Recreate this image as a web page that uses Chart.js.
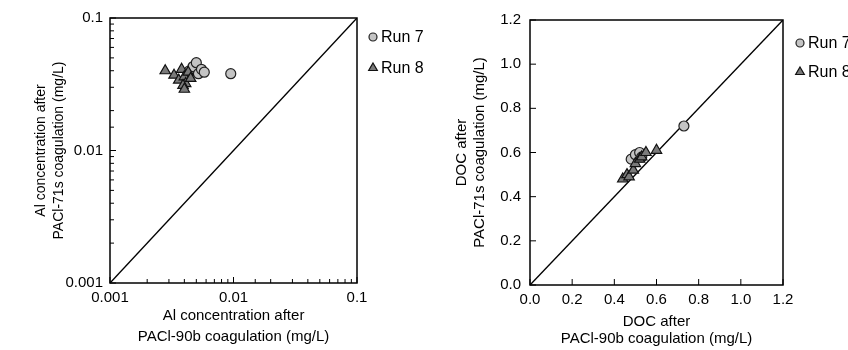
<!DOCTYPE html>
<html>
<head>
<meta charset="utf-8">
<script src="https://cdn.jsdelivr.net/npm/chart.js@4.4.1/dist/chart.umd.min.js"></script>
<style>
    html, body { margin: 0; padding: 0; background: #fff; }
    #wrap { position: relative; width: 848px; height: 350px; }
    .panel { position: absolute; top: 0; height: 350px; }
    #p1 { left: 0; width: 440px; }
    #p2 { left: 440px; width: 408px; }
</style>
</head>
<body>
<div id="wrap">
    <div class="panel" id="p1"><canvas id="graficaAl" width="440" height="350"></canvas></div>
    <div class="panel" id="p2"><canvas id="graficaDoc" width="408" height="350"></canvas></div>
</div>
<script>
// Al (mg/L): x = after PACl-90b, y = after PACl-71s
const alRun7X = [0.0044, 0.0047, 0.0050, 0.0052, 0.0055, 0.0058, 0.0095];
const alRun7Y = [0.040, 0.043, 0.046, 0.038, 0.041, 0.039, 0.038];
const alRun8X = [0.0028, 0.0033, 0.0036, 0.0038, 0.0040, 0.0041, 0.0043, 0.0045, 0.0039, 0.0040];
const alRun8Y = [0.040, 0.037, 0.034, 0.041, 0.036, 0.032, 0.039, 0.035, 0.031, 0.029];
const alDiagonal = [0.001, 0.1];
const alTickLabels = ['0.001', '0.01', '0.1'];

// DOC (mg/L)
const docRun7X = [0.48, 0.50, 0.52, 0.53, 0.73];
const docRun7Y = [0.57, 0.59, 0.60, 0.58, 0.72];
const docRun8X = [0.44, 0.46, 0.47, 0.49, 0.50, 0.52, 0.53, 0.55, 0.60];
const docRun8Y = [0.48, 0.50, 0.49, 0.52, 0.55, 0.57, 0.58, 0.60, 0.61];
const docDiagonal = [0, 1.2];
const docTicks = [0, 0.2, 0.4, 0.6, 0.8, 1.0, 1.2];

const fuente = 'Arial, "Liberation Sans", sans-serif';

function puntos(xs, ys) {
    return xs.map((x, i) => ({ x: x, y: ys[i] }));
}

function esDecada(v) {
    const l = Math.log10(v);
    return Math.abs(l - Math.round(l)) < 1e-6;
}

const estiloRun7 = { pointStyle: 'circle', radius: 5, backgroundColor: '#c4c4c4', borderColor: '#222', borderWidth: 1.2 };
const estiloRun8 = { pointStyle: 'triangle', radius: 6, backgroundColor: '#7a7a7a', borderColor: '#111', borderWidth: 1.2 };

// marco, marcas hacia dentro y leyenda
const marcoPlugin = {
    id: 'marco',
    afterDraw(chart, args, opts) {
        const { ctx, chartArea: a, scales } = chart;
        ctx.save();
        ctx.strokeStyle = '#000';
        ctx.lineWidth = 1.5;
        ctx.strokeRect(a.left, a.top, a.right - a.left, a.bottom - a.top);

        ctx.lineWidth = 1;
        scales.x.ticks.forEach(t => {
            const px = scales.x.getPixelForValue(t.value);
            const len = opts.mayor(t.value) ? 6 : 4;
            ctx.beginPath();
            ctx.moveTo(px, a.bottom);
            ctx.lineTo(px, a.bottom - len);
            ctx.stroke();
        });
        scales.y.ticks.forEach(t => {
            const py = scales.y.getPixelForValue(t.value);
            const len = opts.mayor(t.value) ? 6 : 4;
            ctx.beginPath();
            ctx.moveTo(a.left, py);
            ctx.lineTo(a.left + len, py);
            ctx.stroke();
        });

        ctx.font = '16px ' + fuente;
        ctx.textBaseline = 'middle';
        ctx.textAlign = 'left';
        opts.leyenda.forEach(item => {
            ctx.fillStyle = item.estilo.backgroundColor;
            ctx.strokeStyle = item.estilo.borderColor;
            ctx.lineWidth = item.estilo.borderWidth;
            Chart.helpers.drawPoint(ctx, {
                pointStyle: item.estilo.pointStyle,
                radius: item.estilo.radius - 1,
                rotation: 0,
                borderWidth: item.estilo.borderWidth
            }, opts.x, item.y);
            ctx.fillStyle = '#000';
            ctx.fillText(item.texto, opts.x + 8, item.y + 1);
        });
        ctx.restore();
    }
};

function dataset(label, data, estilo) {
    return {
        label: label,
        data: data,
        pointStyle: estilo.pointStyle,
        pointRadius: estilo.radius,
        pointBackgroundColor: estilo.backgroundColor,
        pointBorderColor: estilo.borderColor,
        pointBorderWidth: estilo.borderWidth,
        showLine: false
    };
}

function diagonal(vals) {
    return {
        label: '1:1',
        data: puntos(vals, vals),
        showLine: true,
        pointRadius: 0,
        borderColor: '#000',
        borderWidth: 1.4,
        fill: false
    };
}

const sinRejilla = { display: false, drawTicks: false, tickLength: 0 };

function initCharts() {
    const ctx1 = document.getElementById('graficaAl').getContext('2d');
    new Chart(ctx1, {
        type: 'scatter',
        data: {
            datasets: [
                dataset('Run 8', puntos(alRun8X, alRun8Y), estiloRun8),
                dataset('Run 7', puntos(alRun7X, alRun7Y), estiloRun7),
                diagonal(alDiagonal)
            ]
        },
        options: {
            responsive: false,
            animation: false,
            layout: { padding: { left: 0, top: 18, right: 83, bottom: 0 } },
            plugins: {
                legend: { display: false },
                tooltip: { enabled: false },
                marco: {
                    mayor: esDecada,
                    x: 373,
                    leyenda: [
                        { texto: 'Run 7', y: 37, estilo: estiloRun7 },
                        { texto: 'Run 8', y: 68, estilo: estiloRun8 }
                    ]
                }
            },
            scales: {
                x: {
                    type: 'logarithmic',
                    min: alDiagonal[0],
                    max: alDiagonal[1],
                    grid: sinRejilla,
                    border: { display: false },
                    afterFit: s => { s.height = 67; },
                    ticks: {
                        autoSkip: false,
                        maxRotation: 0,
                        padding: 6,
                        color: '#000',
                        font: { family: fuente, size: 15 },
                        callback: v => esDecada(v) ? alTickLabels[Math.round(Math.log10(v)) + 3] : ''
                    },
                    title: {
                        display: true,
                        text: ['Al concentration after', 'PACl-90b coagulation (mg/L)'],
                        color: '#000',
                        font: { family: fuente, size: 15, lineHeight: 1.45 },
                        padding: { top: 0, bottom: 2 }
                    }
                },
                y: {
                    type: 'logarithmic',
                    min: alDiagonal[0],
                    max: alDiagonal[1],
                    grid: sinRejilla,
                    border: { display: false },
                    afterFit: s => { s.width = 110; },
                    ticks: {
                        autoSkip: false,
                        padding: 7,
                        color: '#000',
                        font: { family: fuente, size: 15 },
                        callback: v => esDecada(v) ? alTickLabels[Math.round(Math.log10(v)) + 3] : ''
                    },
                    title: {
                        display: true,
                        text: ['Al concentration after', 'PACl-71s coagulation (mg/L)'],
                        color: '#000',
                        font: { family: fuente, size: 14, lineHeight: 1.3 },
                        padding: { top: 32, bottom: 0 }
                    }
                }
            }
        },
        plugins: [marcoPlugin]
    });

    const ctx2 = document.getElementById('graficaDoc').getContext('2d');
    new Chart(ctx2, {
        type: 'scatter',
        data: {
            datasets: [
                dataset('Run 8', puntos(docRun8X, docRun8Y), estiloRun8),
                dataset('Run 7', puntos(docRun7X, docRun7Y), estiloRun7),
                diagonal(docDiagonal)
            ]
        },
        options: {
            responsive: false,
            animation: false,
            layout: { padding: { left: 0, top: 20, right: 65, bottom: 0 } },
            plugins: {
                legend: { display: false },
                tooltip: { enabled: false },
                marco: {
                    mayor: () => true,
                    x: 360,
                    leyenda: [
                        { texto: 'Run 7', y: 43, estilo: estiloRun7 },
                        { texto: 'Run 8', y: 72, estilo: estiloRun8 }
                    ]
                }
            },
            scales: {
                x: {
                    type: 'linear',
                    min: docDiagonal[0],
                    max: docDiagonal[1],
                    grid: sinRejilla,
                    border: { display: false },
                    afterFit: s => { s.height = 65; },
                    afterBuildTicks: s => { s.ticks = docTicks.map(v => ({ value: v })); },
                    ticks: {
                        autoSkip: false,
                        maxRotation: 0,
                        padding: 6,
                        color: '#000',
                        font: { family: fuente, size: 15 },
                        callback: v => v.toFixed(1)
                    },
                    title: {
                        display: true,
                        text: ['DOC after', 'PACl-90b coagulation (mg/L)'],
                        color: '#000',
                        font: { family: fuente, size: 15, lineHeight: 1.13 },
                        padding: { top: 0, bottom: 3 }
                    }
                },
                y: {
                    type: 'linear',
                    min: docDiagonal[0],
                    max: docDiagonal[1],
                    grid: sinRejilla,
                    border: { display: false },
                    afterFit: s => { s.width = 90; },
                    afterBuildTicks: s => { s.ticks = docTicks.map(v => ({ value: v })); },
                    ticks: {
                        autoSkip: false,
                        padding: 9,
                        color: '#000',
                        font: { family: fuente, size: 15 },
                        callback: v => v.toFixed(1)
                    },
                    title: {
                        display: true,
                        text: ['DOC after', 'PACl-71s coagulation (mg/L)'],
                        color: '#000',
                        font: { family: fuente, size: 15, lineHeight: 1.2 },
                        padding: { top: 13, bottom: 0 }
                    }
                }
            }
        },
        plugins: [marcoPlugin]
    });
}

document.addEventListener('DOMContentLoaded', initCharts);
</script>
</body>
</html>
